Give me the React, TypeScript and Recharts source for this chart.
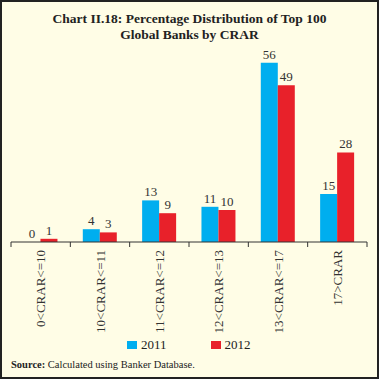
import { Bar, BarChart, LabelList, XAxis, YAxis } from 'recharts';

const categories = ['0<CRAR<=10', '10<CRAR<=11', '11<CRAR<=12', '12<CRAR<=13', '13<CRAR<=17', '17>CRAR'];
const values2011 = [0, 4, 13, 11, 56, 15];
const values2012 = [1, 3, 9, 10, 49, 28];

const data = categories.map((name, i) => ({ name, y2011: values2011[i], y2012: values2012[i] }));

const BLUE = '#00aeef';
const RED = '#e8212a';
const SERIF = '"Liberation Serif", "DejaVu Serif", serif';
const PLOT_LEFT = 11;
const PLOT_RIGHT = 12;
const BAND = (379 - PLOT_LEFT - PLOT_RIGHT) / categories.length;

// keep zero-value bars in the layout so their "0" label still shows
const keepZero = (value: any) => (Number(value) === 0 ? 0.01 : 0);

function CategoryTick(props: any) {
  const { x, y, payload, index } = props;
  return (
    <g>
      <line x1={x - BAND / 2} y1={y - 8} x2={x - BAND / 2} y2={y - 3} stroke="#333" />
      {index === categories.length - 1 ? (
        <line x1={x + BAND / 2} y1={y - 8} x2={x + BAND / 2} y2={y - 3} stroke="#333" />
      ) : null}
      <text
        x={x}
        y={y}
        transform={`rotate(-90 ${x} ${y})`}
        textAnchor="end"
        dy="0.35em"
        fill="#333"
        style={{ fontFamily: SERIF, fontSize: 13 }}
      >
        {payload.value}
      </text>
    </g>
  );
}

function ValueLabel(props: any) {
  const { x, y, width, value } = props;
  return (
    <text
      x={Number(x) + Number(width) / 2}
      y={Number(y) - 4}
      textAnchor="middle"
      fill="#333"
      style={{ fontFamily: SERIF, fontSize: 13 }}
    >
      {value}
    </text>
  );
}

export default function App() {
  return (
    <div
      style={{
        position: 'fixed',
        top: 0,
        left: 0,
        width: 379,
        height: 379,
        background: '#fffde6',
        border: '2px solid #222',
        boxSizing: 'border-box',
        fontFamily: SERIF,
        overflow: 'hidden',
      }}
    >
      <div
        style={{
          position: 'absolute',
          top: 9,
          left: 0,
          width: 375,
          textAlign: 'center',
          fontWeight: 'bold',
          fontSize: 13.5,
          lineHeight: '16px',
          color: '#222',
        }}
      >
        Chart II.18: Percentage Distribution of Top 100
        <br />
        Global Banks by CRAR
      </div>
      <div style={{ position: 'absolute', top: -2, left: -2 }}>
        <BarChart
          width={379}
          height={379}
          data={data}
          margin={{ top: 50, right: PLOT_RIGHT, bottom: 42, left: PLOT_LEFT }}
          barCategoryGap="21%"
          barGap={0}
        >
          <XAxis
            dataKey="name"
            height={95}
            interval={0}
            axisLine={{ stroke: '#333' }}
            tickLine={false}
            tick={<CategoryTick />}
          />
          <YAxis hide width={0} domain={[0, 60]} />
          <Bar dataKey="y2011" fill={BLUE} minPointSize={keepZero} isAnimationActive={false}>
            <LabelList dataKey="y2011" content={<ValueLabel />} />
          </Bar>
          <Bar dataKey="y2012" fill={RED} minPointSize={keepZero} isAnimationActive={false}>
            <LabelList dataKey="y2012" content={<ValueLabel />} />
          </Bar>
        </BarChart>
      </div>
      <div style={{ position: 'absolute', top: 335, left: 125, display: 'flex', alignItems: 'center', fontSize: 13, color: '#222' }}>
        <span style={{ display: 'inline-block', width: 10, height: 8, background: BLUE, marginRight: 4 }} />
        <span>2011</span>
        <span style={{ display: 'inline-block', width: 10, height: 8, background: RED, marginLeft: 44, marginRight: 4 }} />
        <span>2012</span>
      </div>
      <div style={{ position: 'absolute', top: 357, left: 9, fontSize: 10.5, color: '#222' }}>
        <b>Source:</b> Calculated using Banker Database.
      </div>
    </div>
  );
}
